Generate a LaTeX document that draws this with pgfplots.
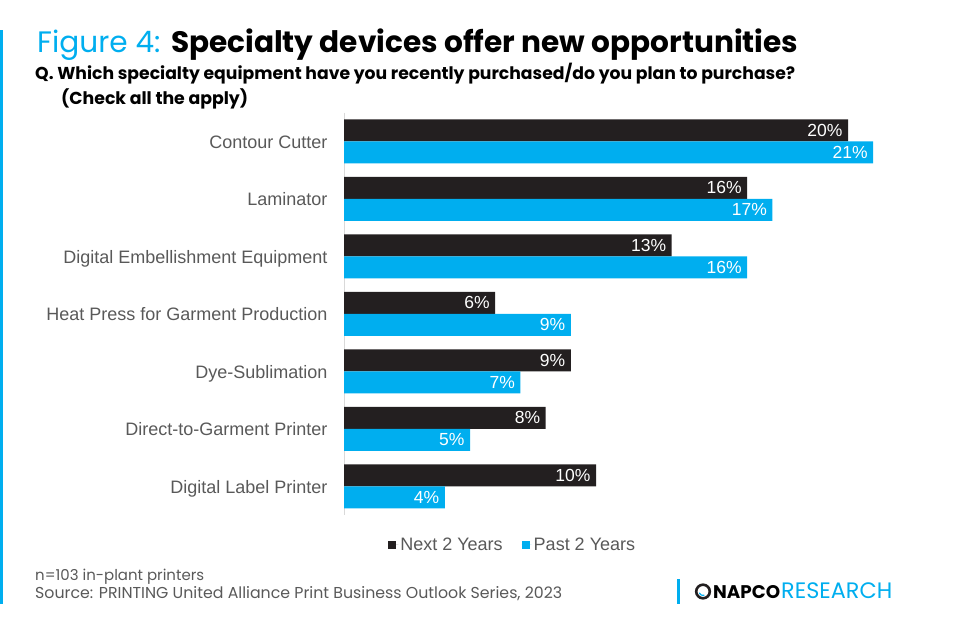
\documentclass[border=0pt]{standalone}
\usepackage{pgfplots}
\pgfplotsset{compat=1.18}
\usepackage{fontspec}
\setmainfont{Liberation Sans}
\newfontfamily\pop{Poppins}
\definecolor{nblack}{HTML}{231F20}
\definecolor{nblue}{HTML}{00AEEF}
\definecolor{ngray}{HTML}{595959}
\definecolor{nline}{HTML}{D9D9D9}
\begin{document}
\begin{tikzpicture}[x=1pt,y=1pt]
\useasboundingbox (0,0) rectangle (960,630);
\fill[nblue] (0,26) rectangle (3,600);
% title
\node[anchor=base west, inner sep=0] at (37,577) {\resizebox{761pt}{!}{\pop\fontsize{30}{36}\selectfont\textcolor{nblue}{Figure 4:} \textbf{Specialty devices offer new opportunities}}};
\node[anchor=base west, inner sep=0] at (35,550) {\resizebox{760pt}{!}{\pop\bfseries\fontsize{16}{20}\selectfont Q. Which specialty equipment have you recently purchased/do you plan to purchase?}};
\node[anchor=base west, inner sep=0] at (61,525) {\resizebox{187pt}{!}{\pop\bfseries\fontsize{16}{20}\selectfont (Check all the apply)}};
% footer
\node[anchor=base west, inner sep=0, text=ngray] at (35,50) {\resizebox{169pt}{!}{\pop\fontsize{14}{16}\selectfont n=103 in-plant printers}};
\node[anchor=base west, inner sep=0, text=ngray] at (35,32) {\resizebox{527pt}{!}{\pop\fontsize{14}{16}\selectfont Source: PRINTING United Alliance Print Business Outlook Series, 2023}};
% logo
\fill[nblue] (677,26) rectangle (680,51);
\draw[nblack, line width=2.6pt] (703,38.5) circle (6.8);
\draw[nblue, line width=1.2pt] (703,38.5) ++(200:4) arc (200:290:4);
\node[anchor=base west, inner sep=0] at (713,31.5) {\resizebox{67pt}{!}{\pop\bfseries NAPCO}};
\node[anchor=base west, inner sep=0, text=nblue] at (781,31.5) {\resizebox{111pt}{!}{\pop RESEARCH}};
\begin{axis}[
  at={(344pt,115pt)}, anchor=south west, scale only axis,
  width=604.8pt, height=402.5pt,
  xmin=0, xmax=24, ymin=-0.5, ymax=6.5, y dir=reverse,
  xbar, bar width=22pt, bar shift=0pt,
  hide x axis, axis y line*=left,
  y axis line style={nline, line width=1pt},
  ytick={0,...,6},
  yticklabels={Contour Cutter, Laminator, {Digital Embellishment Equipment\ }, Heat Press for Garment Production, Dye-Sublimation, Direct-to-Garment Printer, Digital Label Printer},
  major tick length=0pt,
  yticklabel style={font=\fontsize{18}{20}\selectfont, text=ngray, xshift=-13pt, text height=13pt, text depth=4pt, yshift=-2.5pt},
  /pgf/number format/assume math mode=true,
  point meta=x,
  nodes near coords={\pgfmathprintnumber{\pgfplotspointmeta}\%},
  every node near coord/.append style={anchor=east, text=white, font=\fontsize{17.5}{20}\selectfont, xshift=-2pt},
  legend style={at={(0.279,-0.0745)}, anchor=center, draw=none, legend columns=2,
    font=\fontsize{18}{20}\selectfont, text=ngray,
    /tikz/every even column/.append style={column sep=17pt}},
  legend image code/.code={\fill[#1] (0pt,-4pt) rectangle (8pt,4pt); \path (0pt,0pt) -- (10pt,0pt);},
]
\addplot[fill=nblack, draw=none] coordinates {(20,-0.1913) (16,0.8087) (13,1.8087) (6,2.8087) (9,3.8087) (8,4.8087) (10,5.8087)};
\addplot[fill=nblue, draw=none] coordinates {(21,0.1913) (17,1.1913) (16,2.1913) (9,3.1913) (7,4.1913) (5,5.1913) (4,6.1913)};
\legend{Next 2 Years, Past 2 Years}
\end{axis}
\end{tikzpicture}
\end{document}
